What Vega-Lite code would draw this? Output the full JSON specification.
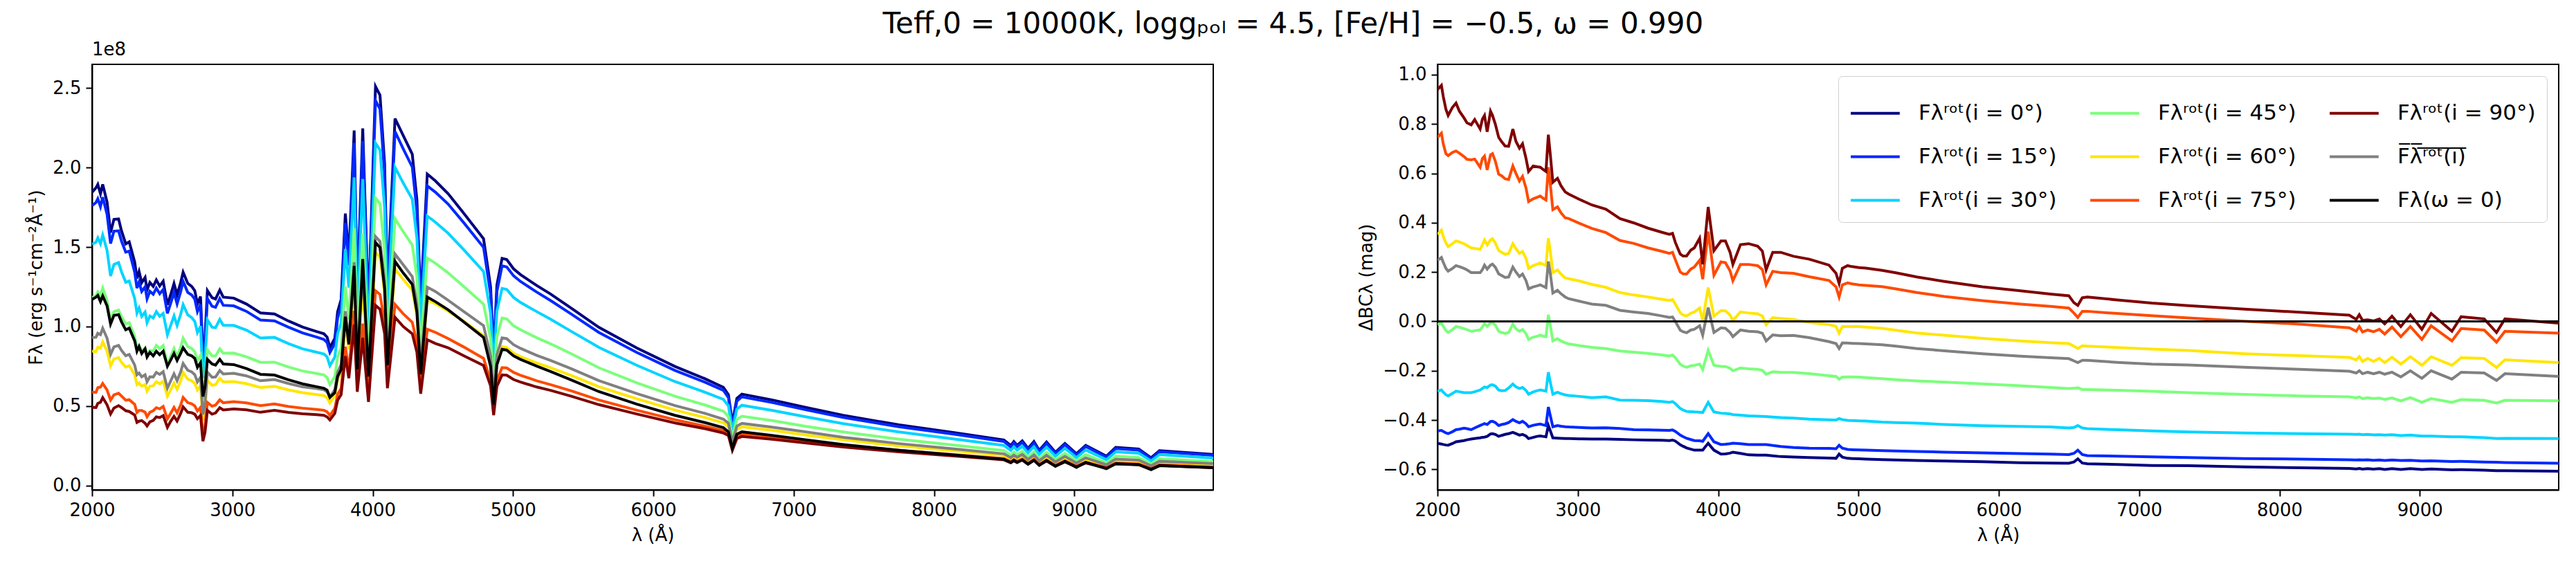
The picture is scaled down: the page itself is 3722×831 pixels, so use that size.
{
"$schema": "https://vega.github.io/schema/vega-lite/v6.json",
"background": "white",
"padding": {"left": 38, "top": 14, "right": 10, "bottom": 10},
"bounds": "flush",
"spacing": 324,
"title": {"text": "Teff,0 = 10000K, loggₚₒₗ = 4.5, [Fe/H] = −0.5, ω = 0.990", "font": "DejaVu Sans", "fontSize": 42, "fontWeight": "normal", "color": "black", "anchor": "middle", "baseline": "alphabetic", "offset": -32},
"config": {
  "font": "DejaVu Sans",
  "view": {"stroke": "black", "strokeWidth": 2},
  "axis": {"labelFont": "DejaVu Sans", "labelFontSize": 26, "labelColor": "black", "titleFont": "DejaVu Sans", "titleFontSize": 26, "titleFontWeight": "normal", "titleColor": "black", "tickColor": "black", "tickSize": 9, "tickWidth": 2, "domainColor": "black", "domainWidth": 2, "grid": false, "labelPadding": 7, "titlePadding": 10, "labelFlush": false, "labelOverlap": false, "labelBound": false}
},
"resolve": {"legend": {"color": "independent"}},
"datasets": {
"F": [
{"l":2000,"n":1.844,"b":1.761,"c":1.518,"g":1.183,"y":0.845,"o":0.588,"r":0.492,"m":0.931,"k":1.17},
{"l":2028,"n":1.873,"b":1.780,"c":1.531,"g":1.193,"y":0.842,"o":0.587,"r":0.491,"m":0.933,"k":1.185},
{"l":2041,"n":1.894,"b":1.804,"c":1.558,"g":1.218,"y":0.870,"o":0.616,"r":0.517,"m":0.958,"k":1.196},
{"l":2060,"n":1.835,"b":1.754,"c":1.521,"g":1.197,"y":0.864,"o":0.619,"r":0.524,"m":0.949,"k":1.157},
{"l":2076,"n":1.894,"b":1.814,"c":1.576,"g":1.243,"y":0.903,"o":0.642,"r":0.553,"m":0.989,"k":1.193},
{"l":2107,"n":1.783,"b":1.706,"c":1.479,"g":1.165,"y":0.846,"o":0.601,"r":0.508,"m":0.927,"k":1.13},
{"l":2132,"n":1.592,"b":1.522,"c":1.318,"g":1.036,"y":0.753,"o":0.538,"r":0.450,"m":0.825,"k":1.016},
{"l":2156,"n":1.674,"b":1.600,"c":1.391,"g":1.094,"y":0.796,"o":0.571,"r":0.488,"m":0.872,"k":1.07},
{"l":2189,"n":1.677,"b":1.602,"c":1.403,"g":1.104,"y":0.805,"o":0.581,"r":0.503,"m":0.882,"k":1.075},
{"l":2210,"n":1.602,"b":1.537,"c":1.344,"g":1.062,"y":0.776,"o":0.563,"r":0.491,"m":0.850,"k":1.03},
{"l":2240,"n":1.520,"b":1.468,"c":1.279,"g":1.017,"y":0.745,"o":0.537,"r":0.471,"m":0.817,"k":0.98},
{"l":2265,"n":1.533,"b":1.474,"c":1.287,"g":1.025,"y":0.754,"o":0.540,"r":0.466,"m":0.825,"k":0.99},
{"l":2304,"n":1.405,"b":1.342,"c":1.175,"g":0.939,"y":0.696,"o":0.511,"r":0.444,"m":0.758,"k":0.91},
{"l":2320,"n":1.303,"b":1.242,"c":1.085,"g":0.862,"y":0.635,"o":0.460,"r":0.397,"m":0.697,"k":0.845},
{"l":2335,"n":1.346,"b":1.280,"c":1.117,"g":0.882,"y":0.645,"o":0.472,"r":0.405,"m":0.708,"k":0.874},
{"l":2354,"n":1.276,"b":1.221,"c":1.064,"g":0.846,"y":0.625,"o":0.472,"r":0.409,"m":0.684,"k":0.831},
{"l":2378,"n":1.309,"b":1.250,"c":1.091,"g":0.865,"y":0.635,"o":0.462,"r":0.392,"m":0.697,"k":0.86},
{"l":2392,"n":1.230,"b":1.175,"c":1.025,"g":0.813,"y":0.594,"o":0.433,"r":0.375,"m":0.653,"k":0.809},
{"l":2412,"n":1.278,"b":1.222,"c":1.067,"g":0.850,"y":0.625,"o":0.461,"r":0.401,"m":0.684,"k":0.838},
{"l":2436,"n":1.253,"b":1.203,"c":1.054,"g":0.847,"y":0.627,"o":0.471,"r":0.410,"m":0.683,"k":0.816},
{"l":2458,"n":1.293,"b":1.242,"c":1.094,"g":0.881,"y":0.653,"o":0.490,"r":0.432,"m":0.712,"k":0.845},
{"l":2482,"n":1.255,"b":1.206,"c":1.065,"g":0.861,"y":0.640,"o":0.483,"r":0.428,"m":0.699,"k":0.823},
{"l":2507,"n":1.285,"b":1.233,"c":1.083,"g":0.881,"y":0.655,"o":0.498,"r":0.440,"m":0.716,"k":0.845},
{"l":2537,"n":1.137,"b":1.083,"c":0.949,"g":0.759,"y":0.562,"o":0.420,"r":0.366,"m":0.613,"k":0.751},
{"l":2559,"n":1.197,"b":1.143,"c":1.004,"g":0.809,"y":0.600,"o":0.453,"r":0.402,"m":0.655,"k":0.787},
{"l":2584,"n":1.271,"b":1.213,"c":1.067,"g":0.862,"y":0.644,"o":0.492,"r":0.435,"m":0.703,"k":0.831},
{"l":2606,"n":1.200,"b":1.143,"c":1.007,"g":0.811,"y":0.606,"o":0.458,"r":0.406,"m":0.660,"k":0.787},
{"l":2631,"n":1.275,"b":1.218,"c":1.075,"g":0.870,"y":0.657,"o":0.506,"r":0.453,"m":0.714,"k":0.831},
{"l":2649,"n":1.342,"b":1.284,"c":1.138,"g":0.927,"y":0.711,"o":0.554,"r":0.495,"m":0.768,"k":0.867},
{"l":2682,"n":1.272,"b":1.215,"c":1.074,"g":0.875,"y":0.670,"o":0.522,"r":0.461,"m":0.725,"k":0.825},
{"l":2710,"n":1.253,"b":1.199,"c":1.057,"g":0.862,"y":0.659,"o":0.514,"r":0.458,"m":0.715,"k":0.816},
{"l":2732,"n":1.226,"b":1.173,"c":1.033,"g":0.842,"y":0.643,"o":0.501,"r":0.449,"m":0.698,"k":0.80},
{"l":2751,"n":1.143,"b":1.094,"c":0.963,"g":0.786,"y":0.601,"o":0.469,"r":0.421,"m":0.652,"k":0.744},
{"l":2773,"n":1.189,"b":1.140,"c":1.003,"g":0.818,"y":0.628,"o":0.491,"r":0.441,"m":0.681,"k":0.773},
{"l":2790,"n":0.826,"b":0.771,"c":0.677,"g":0.546,"y":0.410,"o":0.315,"r":0.279,"m":0.447,"k":0.56},
{"l":2805,"n":0.934,"b":0.884,"c":0.781,"g":0.632,"y":0.479,"o":0.374,"r":0.335,"m":0.521,"k":0.62},
{"l":2822,"n":1.226,"b":1.176,"c":1.042,"g":0.854,"y":0.662,"o":0.523,"r":0.473,"m":0.714,"k":0.794},
{"l":2855,"n":1.182,"b":1.128,"c":0.996,"g":0.816,"y":0.631,"o":0.499,"r":0.449,"m":0.681,"k":0.765},
{"l":2880,"n":1.173,"b":1.121,"c":0.993,"g":0.815,"y":0.635,"o":0.506,"r":0.457,"m":0.683,"k":0.758},
{"l":2910,"n":1.229,"b":1.176,"c":1.045,"g":0.860,"y":0.675,"o":0.539,"r":0.490,"m":0.724,"k":0.794},
{"l":2935,"n":1.185,"b":1.134,"c":1.008,"g":0.832,"y":0.652,"o":0.521,"r":0.476,"m":0.702,"k":0.765},
{"l":3010,"n":1.179,"b":1.130,"c":1.007,"g":0.833,"y":0.654,"o":0.528,"r":0.482,"m":0.706,"k":0.761},
{"l":3100,"n":1.142,"b":1.096,"c":0.978,"g":0.810,"y":0.641,"o":0.520,"r":0.477,"m":0.690,"k":0.736},
{"l":3200,"n":1.086,"b":1.041,"c":0.928,"g":0.775,"y":0.617,"o":0.503,"r":0.461,"m":0.659,"k":0.70},
{"l":3300,"n":1.079,"b":1.036,"c":0.932,"g":0.776,"y":0.624,"o":0.514,"r":0.473,"m":0.667,"k":0.695},
{"l":3400,"n":1.035,"b":0.996,"c":0.893,"g":0.746,"y":0.602,"o":0.497,"r":0.460,"m":0.642,"k":0.665},
{"l":3500,"n":0.997,"b":0.960,"c":0.860,"g":0.721,"y":0.584,"o":0.487,"r":0.452,"m":0.621,"k":0.64},
{"l":3600,"n":0.969,"b":0.934,"c":0.839,"g":0.705,"y":0.572,"o":0.479,"r":0.446,"m":0.610,"k":0.622},
{"l":3652,"n":0.955,"b":0.919,"c":0.828,"g":0.696,"y":0.566,"o":0.474,"r":0.442,"m":0.603,"k":0.612},
{"l":3675,"n":0.934,"b":0.900,"c":0.809,"g":0.680,"y":0.553,"o":0.464,"r":0.432,"m":0.590,"k":0.600},
{"l":3695,"n":0.867,"b":0.837,"c":0.754,"g":0.635,"y":0.520,"o":0.441,"r":0.413,"m":0.555,"k":0.555},
{"l":3730,"n":0.926,"b":0.893,"c":0.808,"g":0.686,"y":0.565,"o":0.486,"r":0.454,"m":0.604,"k":0.584},
{"l":3750,"n":1.093,"b":1.055,"c":0.955,"g":0.810,"y":0.670,"o":0.574,"r":0.537,"m":0.713,"k":0.686},
{"l":3775,"n":1.171,"b":1.129,"c":1.022,"g":0.866,"y":0.715,"o":0.612,"r":0.572,"m":0.761,"k":0.73},
{"l":3805,"n":1.711,"b":1.651,"c":1.488,"g":1.253,"y":1.030,"o":0.874,"r":0.814,"m":1.097,"k":1.062},
{"l":3830,"n":1.436,"b":1.385,"c":1.245,"g":1.046,"y":0.858,"o":0.726,"r":0.675,"m":0.915,"k":0.888},
{"l":3868,"n":2.233,"b":2.156,"c":1.938,"g":1.619,"y":1.313,"o":1.099,"r":1.012,"m":1.404,"k":1.381},
{"l":3890,"n":1.181,"b":1.142,"c":1.026,"g":0.874,"y":0.727,"o":0.623,"r":0.590,"m":0.769,"k":0.73},
{"l":3929,"n":2.246,"b":2.167,"c":1.928,"g":1.587,"y":1.257,"o":1.019,"r":0.929,"m":1.354,"k":1.425},
{"l":3970,"n":1.109,"b":1.075,"c":0.962,"g":0.808,"y":0.673,"o":0.578,"r":0.526,"m":0.715,"k":0.686},
{"l":4020,"n":2.510,"b":2.421,"c":2.154,"g":1.808,"y":1.468,"o":1.225,"r":1.133,"m":1.566,"k":1.529},
{"l":4052,"n":2.455,"b":2.368,"c":2.111,"g":1.772,"y":1.439,"o":1.202,"r":1.109,"m":1.536,"k":1.497},
{"l":4085,"n":2.021,"b":1.952,"c":1.746,"g":1.472,"y":1.208,"o":1.023,"r":0.955,"m":1.288,"k":1.236},
{"l":4105,"n":1.235,"b":1.195,"c":1.074,"g":0.911,"y":0.755,"o":0.651,"r":0.612,"m":0.803,"k":0.758},
{"l":4159,"n":2.308,"b":2.227,"c":2.001,"g":1.678,"y":1.362,"o":1.139,"r":1.059,"m":1.456,"k":1.41},
{"l":4217,"n":2.202,"b":2.119,"c":1.904,"g":1.597,"y":1.297,"o":1.081,"r":1.001,"m":1.389,"k":1.338},
{"l":4282,"n":2.084,"b":2.003,"c":1.802,"g":1.513,"y":1.230,"o":1.027,"r":0.955,"m":1.314,"k":1.265},
{"l":4315,"n":1.797,"b":1.728,"c":1.555,"g":1.309,"y":1.069,"o":0.899,"r":0.839,"m":1.140,"k":1.091},
{"l":4342,"n":1.153,"b":1.108,"c":0.999,"g":0.853,"y":0.709,"o":0.611,"r":0.578,"m":0.753,"k":0.70},
{"l":4389,"n":1.959,"b":1.885,"c":1.695,"g":1.431,"y":1.169,"o":0.983,"r":0.917,"m":1.248,"k":1.186},
{"l":4446,"n":1.917,"b":1.846,"c":1.657,"g":1.399,"y":1.144,"o":0.964,"r":0.894,"m":1.221,"k":1.157},
{"l":4537,"n":1.836,"b":1.771,"c":1.587,"g":1.338,"y":1.098,"o":0.925,"r":0.867,"m":1.166,"k":1.106},
{"l":4650,"n":1.711,"b":1.652,"c":1.482,"g":1.251,"y":1.033,"o":0.871,"r":0.816,"m":1.094,"k":1.029},
{"l":4790,"n":1.552,"b":1.498,"c":1.346,"g":1.141,"y":0.943,"o":0.800,"r":0.755,"m":1.006,"k":0.932},
{"l":4840,"n":1.250,"b":1.206,"c":1.084,"g":0.921,"y":0.764,"o":0.659,"r":0.627,"m":0.815,"k":0.75},
{"l":4862,"n":0.837,"b":0.810,"c":0.733,"g":0.633,"y":0.533,"o":0.466,"r":0.443,"m":0.565,"k":0.51},
{"l":4885,"n":1.261,"b":1.220,"c":1.097,"g":0.936,"y":0.775,"o":0.663,"r":0.624,"m":0.823,"k":0.76},
{"l":4922,"n":1.429,"b":1.382,"c":1.240,"g":1.054,"y":0.874,"o":0.742,"r":0.696,"m":0.929,"k":0.857},
{"l":4955,"n":1.422,"b":1.375,"c":1.234,"g":1.048,"y":0.869,"o":0.740,"r":0.694,"m":0.924,"k":0.852},
{"l":5004,"n":1.363,"b":1.319,"c":1.183,"g":1.005,"y":0.832,"o":0.712,"r":0.667,"m":0.886,"k":0.816},
{"l":5053,"n":1.327,"b":1.284,"c":1.152,"g":0.980,"y":0.811,"o":0.694,"r":0.651,"m":0.863,"k":0.794},
{"l":5169,"n":1.258,"b":1.217,"c":1.094,"g":0.930,"y":0.771,"o":0.659,"r":0.620,"m":0.819,"k":0.751},
{"l":5267,"n":1.205,"b":1.164,"c":1.047,"g":0.892,"y":0.742,"o":0.635,"r":0.599,"m":0.787,"k":0.718},
{"l":5415,"n":1.116,"b":1.079,"c":0.970,"g":0.829,"y":0.693,"o":0.596,"r":0.562,"m":0.735,"k":0.664},
{"l":5612,"n":0.995,"b":0.963,"c":0.869,"g":0.741,"y":0.622,"o":0.538,"r":0.509,"m":0.660,"k":0.591},
{"l":5883,"n":0.865,"b":0.837,"c":0.756,"g":0.646,"y":0.546,"o":0.474,"r":0.450,"m":0.578,"k":0.512},
{"l":6154,"n":0.749,"b":0.724,"c":0.654,"g":0.562,"y":0.475,"o":0.414,"r":0.394,"m":0.503,"k":0.442},
{"l":6368,"n":0.672,"b":0.650,"c":0.587,"g":0.507,"y":0.428,"o":0.374,"r":0.358,"m":0.454,"k":0.396},
{"l":6499,"n":0.618,"b":0.599,"c":0.542,"g":0.468,"y":0.395,"o":0.346,"r":0.331,"m":0.418,"k":0.364},
{"l":6535,"n":0.571,"b":0.553,"c":0.502,"g":0.434,"y":0.371,"o":0.328,"r":0.315,"m":0.392,"k":0.338},
{"l":6563,"n":0.394,"b":0.382,"c":0.348,"g":0.302,"y":0.261,"o":0.232,"r":0.222,"m":0.275,"k":0.236},
{"l":6595,"n":0.548,"b":0.531,"c":0.481,"g":0.416,"y":0.354,"o":0.311,"r":0.296,"m":0.374,"k":0.323},
{"l":6631,"n":0.575,"b":0.558,"c":0.505,"g":0.436,"y":0.370,"o":0.325,"r":0.309,"m":0.391,"k":0.338},
{"l":6844,"n":0.539,"b":0.523,"c":0.473,"g":0.409,"y":0.348,"o":0.307,"r":0.292,"m":0.368,"k":0.316},
{"l":7090,"n":0.491,"b":0.476,"c":0.432,"g":0.372,"y":0.318,"o":0.281,"r":0.268,"m":0.337,"k":0.287},
{"l":7353,"n":0.442,"b":0.429,"c":0.390,"g":0.337,"y":0.288,"o":0.255,"r":0.243,"m":0.304,"k":0.258},
{"l":7750,"n":0.382,"b":0.370,"c":0.337,"g":0.292,"y":0.250,"o":0.222,"r":0.212,"m":0.264,"k":0.222},
{"l":8144,"n":0.333,"b":0.323,"c":0.293,"g":0.255,"y":0.219,"o":0.195,"r":0.186,"m":0.231,"k":0.193},
{"l":8498,"n":0.287,"b":0.278,"c":0.253,"g":0.220,"y":0.190,"o":0.170,"r":0.162,"m":0.200,"k":0.166},
{"l":8547,"n":0.252,"b":0.243,"c":0.221,"g":0.193,"y":0.167,"o":0.151,"r":0.144,"m":0.176,"k":0.145},
{"l":8569,"n":0.277,"b":0.268,"c":0.244,"g":0.212,"y":0.183,"o":0.163,"r":0.156,"m":0.192,"k":0.160},
{"l":8592,"n":0.253,"b":0.245,"c":0.223,"g":0.195,"y":0.170,"o":0.152,"r":0.145,"m":0.178,"k":0.146},
{"l":8629,"n":0.281,"b":0.272,"c":0.247,"g":0.215,"y":0.186,"o":0.167,"r":0.161,"m":0.196,"k":0.162},
{"l":8670,"n":0.234,"b":0.227,"c":0.206,"g":0.180,"y":0.157,"o":0.140,"r":0.135,"m":0.164,"k":0.135},
{"l":8712,"n":0.277,"b":0.268,"c":0.244,"g":0.213,"y":0.184,"o":0.165,"r":0.159,"m":0.193,"k":0.160},
{"l":8750,"n":0.222,"b":0.215,"c":0.196,"g":0.171,"y":0.149,"o":0.134,"r":0.129,"m":0.156,"k":0.128},
{"l":8802,"n":0.274,"b":0.265,"c":0.241,"g":0.210,"y":0.181,"o":0.161,"r":0.155,"m":0.191,"k":0.158},
{"l":8865,"n":0.210,"b":0.203,"c":0.185,"g":0.163,"y":0.142,"o":0.128,"r":0.123,"m":0.149,"k":0.121},
{"l":8933,"n":0.265,"b":0.257,"c":0.234,"g":0.203,"y":0.175,"o":0.156,"r":0.149,"m":0.184,"k":0.153},
{"l":9015,"n":0.200,"b":0.194,"c":0.176,"g":0.156,"y":0.135,"o":0.123,"r":0.118,"m":0.142,"k":0.115},
{"l":9081,"n":0.253,"b":0.246,"c":0.224,"g":0.195,"y":0.167,"o":0.148,"r":0.142,"m":0.175,"k":0.146},
{"l":9229,"n":0.185,"b":0.179,"c":0.163,"g":0.143,"y":0.125,"o":0.114,"r":0.110,"m":0.131,"k":0.106},
{"l":9295,"n":0.240,"b":0.233,"c":0.212,"g":0.185,"y":0.158,"o":0.142,"r":0.136,"m":0.167,"k":0.138},
{"l":9459,"n":0.230,"b":0.223,"c":0.204,"g":0.177,"y":0.152,"o":0.136,"r":0.131,"m":0.160,"k":0.132},
{"l":9547,"n":0.175,"b":0.169,"c":0.155,"g":0.136,"y":0.119,"o":0.108,"r":0.104,"m":0.125,"k":0.100},
{"l":9607,"n":0.220,"b":0.213,"c":0.195,"g":0.169,"y":0.146,"o":0.131,"r":0.125,"m":0.153,"k":0.126},
{"l":9990,"n":0.196,"b":0.190,"c":0.173,"g":0.151,"y":0.131,"o":0.117,"r":0.113,"m":0.138,"k":0.112}
],
"D": [
{"l":2000,"n":-0.494,"b":-0.444,"c":-0.283,"g":-0.012,"y":0.353,"o":0.746,"r":0.940,"m":0.248},
{"l":2028,"n":-0.497,"b":-0.442,"c":-0.278,"g":-0.007,"y":0.370,"o":0.763,"r":0.957,"m":0.259},
{"l":2041,"n":-0.499,"b":-0.446,"c":-0.287,"g":-0.020,"y":0.345,"o":0.72,"r":0.912,"m":0.240},
{"l":2060,"n":-0.501,"b":-0.452,"c":-0.297,"g":-0.037,"y":0.318,"o":0.680,"r":0.86,"m":0.215},
{"l":2076,"n":-0.502,"b":-0.455,"c":-0.302,"g":-0.045,"y":0.303,"o":0.672,"r":0.835,"m":0.204},
{"l":2107,"n":-0.495,"b":-0.447,"c":-0.292,"g":-0.033,"y":0.315,"o":0.685,"r":0.868,"m":0.215},
{"l":2132,"n":-0.488,"b":-0.439,"c":-0.283,"g":-0.021,"y":0.326,"o":0.691,"r":0.885,"m":0.226},
{"l":2156,"n":-0.486,"b":-0.437,"c":-0.285,"g":-0.024,"y":0.322,"o":0.682,"r":0.852,"m":0.222},
{"l":2189,"n":-0.483,"b":-0.433,"c":-0.289,"g":-0.029,"y":0.315,"o":0.668,"r":0.825,"m":0.215},
{"l":2210,"n":-0.480,"b":-0.435,"c":-0.289,"g":-0.033,"y":0.308,"o":0.657,"r":0.805,"m":0.209},
{"l":2240,"n":-0.477,"b":-0.439,"c":-0.289,"g":-0.040,"y":0.298,"o":0.655,"r":0.797,"m":0.198},
{"l":2265,"n":-0.475,"b":-0.432,"c":-0.285,"g":-0.038,"y":0.296,"o":0.658,"r":0.818,"m":0.198},
{"l":2304,"n":-0.472,"b":-0.422,"c":-0.278,"g":-0.034,"y":0.292,"o":0.625,"r":0.780,"m":0.198},
{"l":2320,"n":-0.470,"b":-0.418,"c":-0.272,"g":-0.022,"y":0.31,"o":0.66,"r":0.82,"m":0.21},
{"l":2335,"n":-0.469,"b":-0.414,"c":-0.266,"g":-0.010,"y":0.33,"o":0.67,"r":0.835,"m":0.228},
{"l":2354,"n":-0.466,"b":-0.418,"c":-0.268,"g":-0.020,"y":0.310,"o":0.614,"r":0.769,"m":0.212},
{"l":2378,"n":-0.456,"b":-0.406,"c":-0.258,"g":-0.006,"y":0.330,"o":0.675,"r":0.852,"m":0.228},
{"l":2392,"n":-0.455,"b":-0.405,"c":-0.257,"g":-0.005,"y":0.335,"o":0.680,"r":0.835,"m":0.232},
{"l":2412,"n":-0.458,"b":-0.410,"c":-0.262,"g":-0.015,"y":0.318,"o":0.650,"r":0.80,"m":0.22},
{"l":2436,"n":-0.466,"b":-0.422,"c":-0.278,"g":-0.040,"y":0.287,"o":0.597,"r":0.746,"m":0.193},
{"l":2458,"n":-0.462,"b":-0.418,"c":-0.281,"g":-0.045,"y":0.280,"o":0.590,"r":0.728,"m":0.186},
{"l":2482,"n":-0.458,"b":-0.415,"c":-0.280,"g":-0.049,"y":0.272,"o":0.578,"r":0.711,"m":0.178},
{"l":2507,"n":-0.455,"b":-0.410,"c":-0.270,"g":-0.045,"y":0.275,"o":0.575,"r":0.71,"m":0.18},
{"l":2537,"n":-0.450,"b":-0.398,"c":-0.254,"g":-0.012,"y":0.315,"o":0.630,"r":0.780,"m":0.220},
{"l":2559,"n":-0.455,"b":-0.405,"c":-0.265,"g":-0.030,"y":0.295,"o":0.60,"r":0.730,"m":0.200},
{"l":2584,"n":-0.461,"b":-0.411,"c":-0.272,"g":-0.040,"y":0.276,"o":0.569,"r":0.702,"m":0.182},
{"l":2606,"n":-0.458,"b":-0.405,"c":-0.268,"g":-0.033,"y":0.283,"o":0.588,"r":0.72,"m":0.192},
{"l":2631,"n":-0.465,"b":-0.415,"c":-0.280,"g":-0.05,"y":0.255,"o":0.54,"r":0.66,"m":0.165},
{"l":2649,"n":-0.475,"b":-0.427,"c":-0.295,"g":-0.073,"y":0.215,"o":0.486,"r":0.608,"m":0.132},
{"l":2682,"n":-0.470,"b":-0.421,"c":-0.286,"g":-0.064,"y":0.226,"o":0.497,"r":0.630,"m":0.140},
{"l":2710,"n":-0.466,"b":-0.418,"c":-0.281,"g":-0.060,"y":0.232,"o":0.503,"r":0.627,"m":0.144},
{"l":2732,"n":-0.464,"b":-0.416,"c":-0.278,"g":-0.056,"y":0.237,"o":0.508,"r":0.625,"m":0.148},
{"l":2751,"n":-0.466,"b":-0.419,"c":-0.280,"g":-0.059,"y":0.232,"o":0.500,"r":0.617,"m":0.143},
{"l":2773,"n":-0.468,"b":-0.422,"c":-0.283,"g":-0.062,"y":0.226,"o":0.492,"r":0.608,"m":0.137},
{"l":2790,"n":-0.422,"b":-0.347,"c":-0.206,"g":0.027,"y":0.337,"o":0.625,"r":0.757,"m":0.243},
{"l":2805,"n":-0.445,"b":-0.385,"c":-0.25,"g":-0.02,"y":0.28,"o":0.55,"r":0.67,"m":0.19},
{"l":2822,"n":-0.472,"b":-0.427,"c":-0.295,"g":-0.079,"y":0.198,"o":0.453,"r":0.564,"m":0.115},
{"l":2855,"n":-0.473,"b":-0.422,"c":-0.287,"g":-0.070,"y":0.209,"o":0.464,"r":0.580,"m":0.126},
{"l":2880,"n":-0.474,"b":-0.425,"c":-0.293,"g":-0.079,"y":0.192,"o":0.44,"r":0.55,"m":0.112},
{"l":2910,"n":-0.475,"b":-0.427,"c":-0.298,"g":-0.087,"y":0.176,"o":0.420,"r":0.525,"m":0.099},
{"l":2935,"n":-0.475,"b":-0.428,"c":-0.300,"g":-0.091,"y":0.173,"o":0.417,"r":0.516,"m":0.092},
{"l":3010,"n":-0.476,"b":-0.430,"c":-0.304,"g":-0.098,"y":0.164,"o":0.398,"r":0.495,"m":0.082},
{"l":3100,"n":-0.477,"b":-0.432,"c":-0.309,"g":-0.105,"y":0.150,"o":0.377,"r":0.472,"m":0.070},
{"l":3200,"n":-0.477,"b":-0.431,"c":-0.306,"g":-0.110,"y":0.138,"o":0.360,"r":0.455,"m":0.065},
{"l":3300,"n":-0.478,"b":-0.434,"c":-0.319,"g":-0.120,"y":0.117,"o":0.328,"r":0.417,"m":0.045},
{"l":3400,"n":-0.480,"b":-0.439,"c":-0.320,"g":-0.125,"y":0.107,"o":0.316,"r":0.399,"m":0.038},
{"l":3500,"n":-0.481,"b":-0.440,"c":-0.321,"g":-0.130,"y":0.099,"o":0.298,"r":0.378,"m":0.032},
{"l":3600,"n":-0.482,"b":-0.441,"c":-0.325,"g":-0.136,"y":0.090,"o":0.284,"r":0.361,"m":0.022},
{"l":3652,"n":-0.483,"b":-0.442,"c":-0.328,"g":-0.140,"y":0.085,"o":0.276,"r":0.353,"m":0.016},
{"l":3675,"n":-0.481,"b":-0.440,"c":-0.325,"g":-0.136,"y":0.089,"o":0.280,"r":0.357,"m":0.018},
{"l":3695,"n":-0.485,"b":-0.446,"c":-0.333,"g":-0.147,"y":0.07,"o":0.25,"r":0.32,"m":0.0},
{"l":3730,"n":-0.500,"b":-0.461,"c":-0.353,"g":-0.174,"y":0.035,"o":0.20,"r":0.273,"m":-0.036},
{"l":3750,"n":-0.506,"b":-0.467,"c":-0.359,"g":-0.181,"y":0.026,"o":0.193,"r":0.265,"m":-0.042},
{"l":3775,"n":-0.513,"b":-0.474,"c":-0.365,"g":-0.186,"y":0.022,"o":0.192,"r":0.265,"m":-0.046},
{"l":3805,"n":-0.518,"b":-0.479,"c":-0.366,"g":-0.180,"y":0.033,"o":0.212,"r":0.289,"m":-0.035},
{"l":3830,"n":-0.522,"b":-0.483,"c":-0.367,"g":-0.178,"y":0.038,"o":0.220,"r":0.298,"m":-0.032},
{"l":3868,"n":-0.522,"b":-0.484,"c":-0.368,"g":-0.173,"y":0.054,"o":0.248,"r":0.337,"m":-0.018},
{"l":3890,"n":-0.522,"b":-0.486,"c":-0.369,"g":-0.195,"y":0.004,"o":0.171,"r":0.231,"m":-0.056},
{"l":3929,"n":-0.494,"b":-0.455,"c":-0.328,"g":-0.117,"y":0.137,"o":0.364,"r":0.464,"m":0.056},
{"l":3970,"n":-0.522,"b":-0.488,"c":-0.367,"g":-0.178,"y":0.021,"o":0.187,"r":0.287,"m":-0.045},
{"l":4020,"n":-0.538,"b":-0.499,"c":-0.372,"g":-0.182,"y":0.044,"o":0.241,"r":0.326,"m":-0.026},
{"l":4052,"n":-0.537,"b":-0.498,"c":-0.373,"g":-0.183,"y":0.043,"o":0.238,"r":0.326,"m":-0.028},
{"l":4085,"n":-0.534,"b":-0.496,"c":-0.375,"g":-0.190,"y":0.025,"o":0.205,"r":0.28,"m":-0.045},
{"l":4105,"n":-0.530,"b":-0.494,"c":-0.378,"g":-0.200,"y":0.004,"o":0.165,"r":0.231,"m":-0.062},
{"l":4159,"n":-0.535,"b":-0.496,"c":-0.380,"g":-0.189,"y":0.038,"o":0.231,"r":0.311,"m":-0.035},
{"l":4217,"n":-0.541,"b":-0.499,"c":-0.383,"g":-0.192,"y":0.034,"o":0.231,"r":0.315,"m":-0.040},
{"l":4282,"n":-0.542,"b":-0.499,"c":-0.384,"g":-0.194,"y":0.031,"o":0.226,"r":0.305,"m":-0.042},
{"l":4315,"n":-0.542,"b":-0.499,"c":-0.385,"g":-0.198,"y":0.022,"o":0.21,"r":0.285,"m":-0.048},
{"l":4342,"n":-0.542,"b":-0.499,"c":-0.386,"g":-0.214,"y":-0.014,"o":0.148,"r":0.209,"m":-0.079},
{"l":4389,"n":-0.545,"b":-0.503,"c":-0.388,"g":-0.204,"y":0.015,"o":0.203,"r":0.28,"m":-0.055},
{"l":4446,"n":-0.548,"b":-0.507,"c":-0.390,"g":-0.206,"y":0.012,"o":0.198,"r":0.28,"m":-0.058},
{"l":4537,"n":-0.550,"b":-0.511,"c":-0.392,"g":-0.207,"y":0.008,"o":0.195,"r":0.264,"m":-0.057},
{"l":4650,"n":-0.552,"b":-0.514,"c":-0.396,"g":-0.212,"y":-0.004,"o":0.181,"r":0.252,"m":-0.066},
{"l":4790,"n":-0.554,"b":-0.515,"c":-0.399,"g":-0.220,"y":-0.013,"o":0.166,"r":0.228,"m":-0.082},
{"l":4840,"n":-0.555,"b":-0.516,"c":-0.400,"g":-0.223,"y":-0.02,"o":0.14,"r":0.195,"m":-0.09},
{"l":4862,"n":-0.538,"b":-0.502,"c":-0.394,"g":-0.234,"y":-0.048,"o":0.099,"r":0.154,"m":-0.110},
{"l":4885,"n":-0.550,"b":-0.514,"c":-0.398,"g":-0.226,"y":-0.021,"o":0.148,"r":0.215,"m":-0.087},
{"l":4922,"n":-0.555,"b":-0.519,"c":-0.401,"g":-0.225,"y":-0.021,"o":0.156,"r":0.226,"m":-0.088},
{"l":4955,"n":-0.556,"b":-0.520,"c":-0.402,"g":-0.225,"y":-0.021,"o":0.152,"r":0.222,"m":-0.089},
{"l":5004,"n":-0.557,"b":-0.521,"c":-0.403,"g":-0.226,"y":-0.021,"o":0.148,"r":0.218,"m":-0.090},
{"l":5053,"n":-0.558,"b":-0.522,"c":-0.404,"g":-0.228,"y":-0.023,"o":0.146,"r":0.216,"m":-0.091},
{"l":5169,"n":-0.560,"b":-0.524,"c":-0.408,"g":-0.232,"y":-0.028,"o":0.141,"r":0.207,"m":-0.095},
{"l":5267,"n":-0.562,"b":-0.525,"c":-0.410,"g":-0.236,"y":-0.036,"o":0.132,"r":0.197,"m":-0.100},
{"l":5415,"n":-0.564,"b":-0.527,"c":-0.412,"g":-0.241,"y":-0.047,"o":0.117,"r":0.180,"m":-0.110},
{"l":5612,"n":-0.566,"b":-0.530,"c":-0.418,"g":-0.246,"y":-0.056,"o":0.101,"r":0.162,"m":-0.119},
{"l":5883,"n":-0.569,"b":-0.533,"c":-0.423,"g":-0.253,"y":-0.069,"o":0.084,"r":0.140,"m":-0.131},
{"l":6154,"n":-0.573,"b":-0.536,"c":-0.426,"g":-0.261,"y":-0.079,"o":0.070,"r":0.124,"m":-0.141},
{"l":6368,"n":-0.574,"b":-0.538,"c":-0.428,"g":-0.268,"y":-0.086,"o":0.061,"r":0.111,"m":-0.147},
{"l":6499,"n":-0.575,"b":-0.540,"c":-0.432,"g":-0.272,"y":-0.090,"o":0.054,"r":0.104,"m":-0.151},
{"l":6535,"n":-0.570,"b":-0.535,"c":-0.430,"g":-0.271,"y":-0.100,"o":0.034,"r":0.076,"m":-0.160},
{"l":6563,"n":-0.557,"b":-0.522,"c":-0.422,"g":-0.269,"y":-0.110,"o":0.016,"r":0.065,"m":-0.167},
{"l":6595,"n":-0.574,"b":-0.540,"c":-0.432,"g":-0.276,"y":-0.099,"o":0.041,"r":0.096,"m":-0.158},
{"l":6631,"n":-0.577,"b":-0.544,"c":-0.435,"g":-0.276,"y":-0.100,"o":0.041,"r":0.099,"m":-0.158},
{"l":6844,"n":-0.580,"b":-0.546,"c":-0.439,"g":-0.279,"y":-0.106,"o":0.032,"r":0.087,"m":-0.166},
{"l":7090,"n":-0.584,"b":-0.549,"c":-0.444,"g":-0.283,"y":-0.112,"o":0.023,"r":0.074,"m":-0.173},
{"l":7353,"n":-0.585,"b":-0.552,"c":-0.448,"g":-0.289,"y":-0.118,"o":0.014,"r":0.064,"m":-0.177},
{"l":7750,"n":-0.590,"b":-0.556,"c":-0.452,"g":-0.296,"y":-0.131,"o":0.001,"r":0.050,"m":-0.186},
{"l":8144,"n":-0.593,"b":-0.558,"c":-0.455,"g":-0.302,"y":-0.139,"o":-0.011,"r":0.037,"m":-0.194},
{"l":8498,"n":-0.596,"b":-0.561,"c":-0.457,"g":-0.306,"y":-0.146,"o":-0.026,"r":0.025,"m":-0.202},
{"l":8547,"n":-0.598,"b":-0.562,"c":-0.458,"g":-0.310,"y":-0.156,"o":-0.040,"r":0.008,"m":-0.209},
{"l":8569,"n":-0.596,"b":-0.561,"c":-0.457,"g":-0.306,"y":-0.143,"o":-0.021,"r":0.027,"m":-0.200},
{"l":8592,"n":-0.599,"b":-0.562,"c":-0.459,"g":-0.313,"y":-0.162,"o":-0.043,"r":0.004,"m":-0.212},
{"l":8629,"n":-0.597,"b":-0.561,"c":-0.458,"g":-0.309,"y":-0.150,"o":-0.035,"r":0.006,"m":-0.206},
{"l":8670,"n":-0.599,"b":-0.563,"c":-0.460,"g":-0.313,"y":-0.162,"o":-0.042,"r":0.002,"m":-0.212},
{"l":8712,"n":-0.597,"b":-0.562,"c":-0.459,"g":-0.311,"y":-0.150,"o":-0.032,"r":0.010,"m":-0.206},
{"l":8750,"n":-0.600,"b":-0.564,"c":-0.461,"g":-0.316,"y":-0.167,"o":-0.051,"r":-0.010,"m":-0.214},
{"l":8802,"n":-0.597,"b":-0.562,"c":-0.459,"g":-0.310,"y":-0.145,"o":-0.023,"r":0.021,"m":-0.206},
{"l":8865,"n":-0.600,"b":-0.564,"c":-0.463,"g":-0.322,"y":-0.173,"o":-0.062,"r":-0.021,"m":-0.225},
{"l":8933,"n":-0.597,"b":-0.563,"c":-0.461,"g":-0.309,"y":-0.143,"o":-0.021,"r":0.027,"m":-0.200},
{"l":9015,"n":-0.600,"b":-0.566,"c":-0.465,"g":-0.328,"y":-0.178,"o":-0.073,"r":-0.032,"m":-0.231},
{"l":9081,"n":-0.598,"b":-0.565,"c":-0.465,"g":-0.313,"y":-0.143,"o":-0.018,"r":0.032,"m":-0.200},
{"l":9229,"n":-0.602,"b":-0.568,"c":-0.468,"g":-0.328,"y":-0.178,"o":-0.079,"r":-0.040,"m":-0.234},
{"l":9295,"n":-0.601,"b":-0.567,"c":-0.468,"g":-0.317,"y":-0.147,"o":-0.029,"r":0.019,"m":-0.206},
{"l":9459,"n":-0.603,"b":-0.570,"c":-0.471,"g":-0.320,"y":-0.150,"o":-0.035,"r":0.010,"m":-0.209},
{"l":9547,"n":-0.605,"b":-0.571,"c":-0.475,"g":-0.331,"y":-0.187,"o":-0.084,"r":-0.045,"m":-0.239},
{"l":9607,"n":-0.605,"b":-0.572,"c":-0.474,"g":-0.320,"y":-0.156,"o":-0.040,"r":0.010,"m":-0.212},
{"l":9990,"n":-0.607,"b":-0.575,"c":-0.475,"g":-0.322,"y":-0.167,"o":-0.048,"r":-0.007,"m":-0.223}
]
},
"hconcat": [
{
 "width": 1620, "height": 615,
 "layer": [
  {
   "data": {"name": "F"},
   "transform": [{"fold": ["n","b","c","g","y","o","r","m"], "as": ["s","F"]}],
   "mark": {"type": "line", "strokeWidth": 4, "clip": true},
   "encoding": {
    "x": {"field": "l", "type": "quantitative", "scale": {"domain": [2000, 9990], "nice": false, "zero": false}, "axis": {"values": [2000,3000,4000,5000,6000,7000,8000,9000], "format": "d", "title": "λ (Å)"}},
    "y": {"field": "F", "type": "quantitative", "scale": {"domain": [-0.027, 2.649], "nice": false, "zero": false}, "axis": {"values": [0,0.5,1,1.5,2,2.5], "format": ".1f", "title": "Fλ (erg s⁻¹cm⁻²Å⁻¹)"}},
    "color": {"field": "s", "type": "nominal", "scale": {"domain": ["n","b","c","g","y","o","r","m","k"], "range": ["#00007f","#0028ff","#00d4ff","#7bff7b","#ffe600","#ff4a00","#7f0000","#808080","#000000"]}, "legend": null}
   }
  },
  {
   "data": {"name": "F"},
   "transform": [{"fold": ["k"], "as": ["s","F"]}],
   "mark": {"type": "line", "strokeWidth": 4, "clip": true},
   "encoding": {
    "x": {"field": "l", "type": "quantitative"},
    "y": {"field": "F", "type": "quantitative"},
    "color": {"field": "s", "type": "nominal", "legend": null}
   }
  },
  {
   "data": {"values": [{"t": "1e8"}]},
   "mark": {"type": "text", "align": "left", "baseline": "bottom", "dy": -8, "fontSize": 26, "font": "DejaVu Sans", "color": "black"},
   "encoding": {"x": {"datum": 2000}, "y": {"datum": 2.649}, "text": {"field": "t"}}
  }
 ]
},
{
 "width": 1620, "height": 615,
 "layer": [
  {
   "data": {"name": "D"},
   "transform": [{"fold": ["n","b","c","g","y","o","r","m"], "as": ["s","v"]}],
   "mark": {"type": "line", "strokeWidth": 4, "clip": true},
   "encoding": {
    "x": {"field": "l", "type": "quantitative", "scale": {"domain": [2000, 9990], "nice": false, "zero": false}, "axis": {"values": [2000,3000,4000,5000,6000,7000,8000,9000], "format": "d", "title": "λ (Å)"}},
    "y": {"field": "v", "type": "quantitative", "scale": {"domain": [-0.683, 1.042], "nice": false, "zero": false}, "axis": {"values": [-0.6,-0.4,-0.2,0,0.2,0.4,0.6,0.8,1.0], "format": ".1f", "title": "ΔBCλ (mag)"}},
    "color": {"field": "s", "type": "nominal", "scale": {"domain": ["n","b","c","g","y","o","r","m","k"], "range": ["#00007f","#0028ff","#00d4ff","#7bff7b","#ffe600","#ff4a00","#7f0000","#808080","#000000"]},
     "legend": {"orient": "top-right", "offset": 17, "columns": 3, "title": null, "symbolType": "stroke", "symbolStrokeWidth": 4, "symbolSize": 5000, "labelFontSize": 31, "labelFont": "DejaVu Sans", "labelColor": "black", "labelLimit": 600, "labelOffset": 25, "columnPadding": 40, "rowPadding": 10, "padding": 16, "strokeColor": "#d0d0d0", "fillColor": "white", "cornerRadius": 6,
      "labelExpr": "datum.label=='n'?'Fλʳᵒᵗ(i = 0°)':datum.label=='b'?'Fλʳᵒᵗ(i = 15°)':datum.label=='c'?'Fλʳᵒᵗ(i = 30°)':datum.label=='g'?'Fλʳᵒᵗ(i = 45°)':datum.label=='y'?'Fλʳᵒᵗ(i = 60°)':datum.label=='o'?'Fλʳᵒᵗ(i = 75°)':datum.label=='r'?'Fλʳᵒᵗ(i = 90°)':datum.label=='m'?'F̅λ̅ʳ̅ᵒ̅ᵗ̅(̅i̅)̅':'Fλ(ω = 0)'"}}
   }
  },
  {
   "data": {"values": [{"l": 2000, "v": 0, "s": "k"}, {"l": 9990, "v": 0, "s": "k"}]},
   "mark": {"type": "line", "strokeWidth": 3, "clip": true},
   "encoding": {
    "x": {"field": "l", "type": "quantitative"},
    "y": {"field": "v", "type": "quantitative"},
    "color": {"field": "s", "type": "nominal"}
   }
  }
 ]
}
]
}
